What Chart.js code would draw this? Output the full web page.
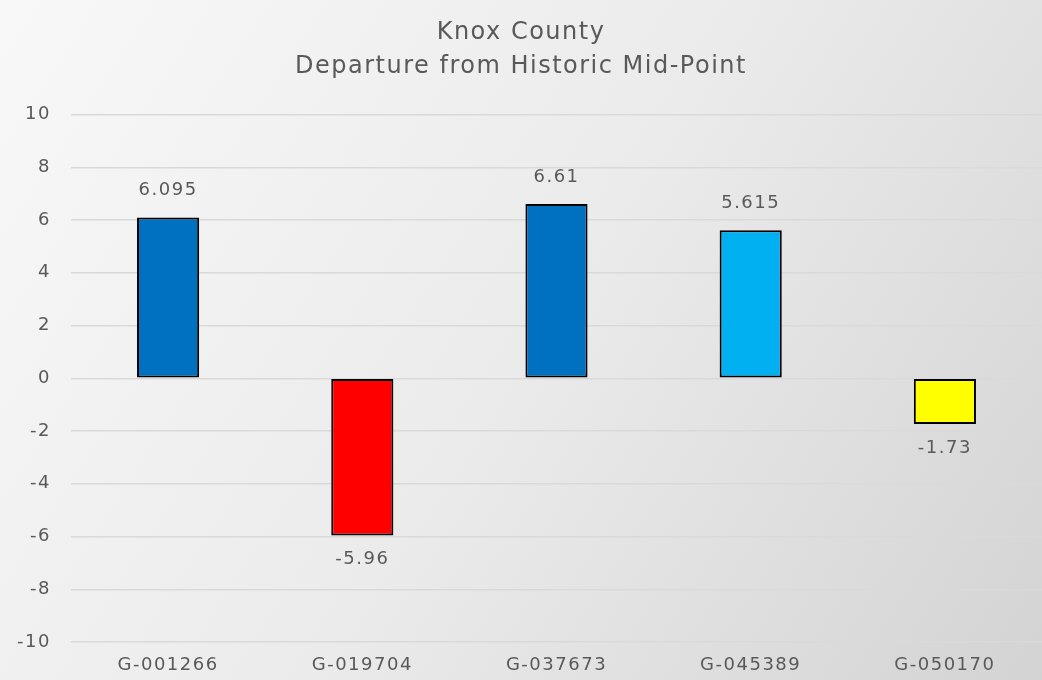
<!DOCTYPE html>
<html lang="en">
<head>
<meta charset="UTF-8">
<title>Knox County - Departure from Historic Mid-Point</title>
<script src="https://cdn.jsdelivr.net/npm/chart.js"></script>
<style>
  html, body { margin: 0; padding: 0; background: #eeeeee; }
  #wrap { width: 1042px; height: 680px; }
</style>
</head>
<body>
<div id="wrap"><canvas id="canvas1" width="1042" height="680"></canvas></div>

<script>
// data
const wells = ['G-001266', 'G-019704', 'G-037673', 'G-045389', 'G-050170'];
const departure = [6.095, -5.96, 6.61, 5.615, -1.73];
const barColors = ['#0070C0', '#FF0000', '#0070C0', '#00B0F0', '#FFFF00'];
const titleLines = ['Knox County', 'Departure from Historic Mid-Point'];
const yMin = -10, yMax = 10, yStep = 2;

const textGray = '#595959';
const fontFam = '"DejaVu Sans", sans-serif';
const spacing = '1.5px'; // the original font is wider, so open up the letters a bit

// soft grey gradient behind everything
const bgPlugin = {
  id: 'bg',
  beforeLayout(chart) { chart.ctx.letterSpacing = spacing; },
  beforeDraw(chart) {
    const c = chart.ctx, w = chart.width, h = chart.height;
    c.letterSpacing = spacing;
    const g = c.createLinearGradient(0, 0, w, h);
    g.addColorStop(0, '#f8f8f8');
    g.addColorStop(0.5, '#ebebeb');
    g.addColorStop(1, '#d3d3d3');
    c.save();
    c.fillStyle = g;
    c.fillRect(0, 0, w, h);
    c.restore();
  }
};

// value labels above / below each bar
const valueLabels = {
  id: 'valueLabels',
  afterDatasetsDraw(chart) {
    const c = chart.ctx;
    const meta = chart.getDatasetMeta(0);
    c.save();
    c.font = '18px ' + fontFam;
    c.fillStyle = textGray;
    c.textAlign = 'center';
    c.textBaseline = 'middle';
    meta.data.forEach((bar, i) => {
      const v = departure[i];
      if (v >= 0) {
        c.fillText(String(v), bar.x, bar.y - 27);
      } else {
        c.fillText(String(v), bar.x, bar.y + 24);
      }
    });
    c.restore();
  }
};

const data = {
  labels: wells,
  datasets: [{
    data: departure,
    backgroundColor: barColors,
    borderColor: '#000000',
    borderWidth: 2,
    borderSkipped: false,
    barPercentage: 0.32,
    categoryPercentage: 1
  }]
};

const config = {
  type: 'bar',
  data: data,
  options: {
    responsive: false,
    animation: false,
    layout: { padding: 0 },
    plugins: {
      legend: { display: false },
      tooltip: { enabled: false },
      title: {
        display: true,
        text: titleLines,
        color: textGray,
        font: { family: fontFam, size: 24, weight: 'normal', lineHeight: 1.45 },
        padding: { top: 15, bottom: 30 }
      }
    },
    scales: {
      x: {
        grid: { display: false, drawTicks: false },
        border: { display: false },
        ticks: {
          color: textGray,
          font: { family: fontFam, size: 18 },
          padding: 13,
          maxRotation: 0
        },
        afterFit(scale) { scale.height = 38; }
      },
      y: {
        min: yMin,
        max: yMax,
        grid: { color: '#d9d9d9', lineWidth: 1.5, drawTicks: false },
        border: { display: false },
        ticks: {
          stepSize: yStep,
          color: textGray,
          font: { family: fontFam, size: 18 },
          padding: 20
        },
        afterFit(scale) { scale.width = 71; }
      }
    }
  },
  plugins: [bgPlugin, valueLabels]
};

const resultChart = new Chart(document.getElementById('canvas1'), config);
</script>
</body>
</html>
